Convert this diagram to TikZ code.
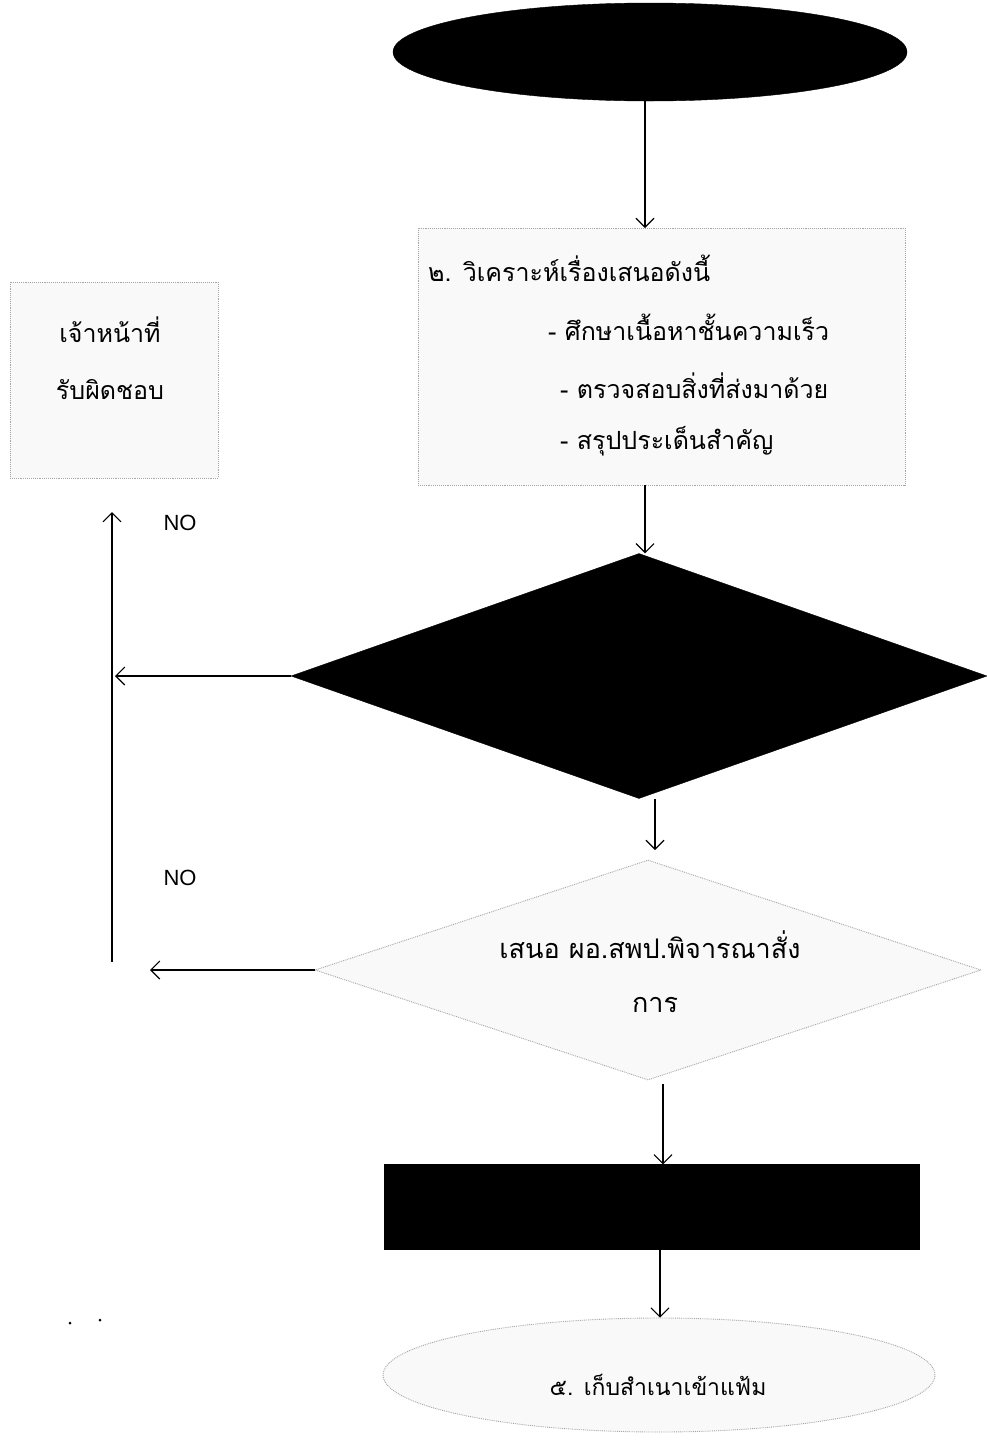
\documentclass[tikz,border=0pt]{standalone}
\usepackage{fontspec}
\setmainfont{Liberation Sans}
\newfontfamily\thaifont[Script=Thai]{Loma}
\usetikzlibrary{shapes.geometric,arrows.meta}
\begin{document}
\begin{tikzpicture}[x=1pt,y=-1pt,
  darkshape/.style={draw=black,fill=black,inner sep=0pt},
  lightshape/.style={draw=gray!70,densely dotted,line width=0.9pt,fill=gray!5,inner sep=0pt},
  thtext/.style={font=\thaifont\fontsize{25}{30}\selectfont,inner sep=0pt},
  thbig/.style={font=\thaifont\fontsize{27}{32}\selectfont,inner sep=0pt},
  thsmall/.style={font=\thaifont\fontsize{23}{28}\selectfont,inner sep=0pt},
  notext/.style={font=\fontsize{22}{26}\selectfont,inner sep=0pt},
  flow/.style={draw=black,line width=1.1pt,-{Straight Barb[length=9pt,width=18pt,line width=1.1pt]}}]
\useasboundingbox[fill=white] (0,0) rectangle (987,1444);

% shapes
\node[darkshape,ellipse,minimum width=514pt,minimum height=98pt] (start) at (650,52) {};
\node[lightshape,rectangle,minimum width=487pt,minimum height=257pt] (analyse) at (661.5,356.5) {};
\node[lightshape,rectangle,minimum width=208pt,minimum height=196pt] (staff) at (114,380) {};
\node[darkshape,diamond,minimum width=696pt,minimum height=245pt] (check) at (639,676) {};
\node[lightshape,diamond,minimum width=666pt,minimum height=220pt] (propose) at (648,970) {};
\node[darkshape,rectangle,minimum width=535pt,minimum height=85pt] (order) at (652,1207) {};
\node[lightshape,ellipse,minimum width=552pt,minimum height=114pt] (file) at (659,1375) {};

% texts
\node[thtext,anchor=west] (a1) at (428,268) {๒. วิเคราะห์เรื่องเสนอดังนี้};
\node[thtext,anchor=west] (a2) at (548,327) {- ศึกษาเนื้อหาชั้นความเร็ว};
\node[thtext,anchor=west] (a3) at (560,386) {- ตรวจสอบสิ่งที่ส่งมาด้วย};
\node[thtext,anchor=west] (a4) at (560,441) {- สรุปประเด็นสำคัญ};
\node[thtext] (s1) at (110,330) {เจ้าหน้าที่};
\node[thtext] (s2) at (110,390) {รับผิดชอบ};
\node[thbig] (p1) at (650,945) {เสนอ ผอ.สพป.พิจารณาสั่ง};
\node[thbig] (p2) at (655,1005) {การ};
\node[thsmall] (f1) at (658,1385) {๕. เก็บสำเนาเข้าแฟ้ม};
\node[notext] (no1) at (180,523) {NO};
\node[notext] (no2) at (180,878) {NO};

% free ends
\coordinate (vbot) at (112,962);
\coordinate (vtop) at (112,512);
\coordinate (left1) at (115,0);
\coordinate (left2) at (150,0);

% connectors
\draw[flow] (start.south -| 645,0) -- (645,228);
\draw[flow] (645,485) -- (check.north -| 645,0);
\draw[flow] (check.west) -- (check.west -| left1);
\draw[flow] (655,799) -- (655,850);
\draw[flow] (propose.west) -- (propose.west -| left2);
\draw[flow] (vbot) -- (vtop);
\draw[flow] (663,1084) -- (order.north -| 663,0);
\draw[flow] (660,1250) -- (file.north -| 660,0);

% specks
\fill[black] (70,1323) circle (1.5pt);
\fill[black] (100,1320) circle (1.5pt);
\end{tikzpicture}
\end{document}
